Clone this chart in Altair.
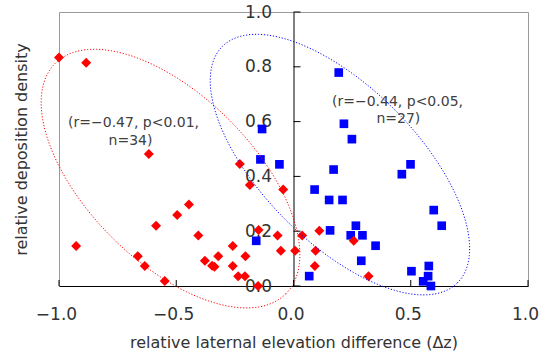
import altair as alt
import numpy as np
import pandas as pd

# ---- data ----
red_x = [-1.0, -0.884, -0.927, -0.617, -0.664, -0.634, -0.586, -0.549, -0.496, -0.446,
         -0.406, -0.378, -0.347, -0.337, -0.321, -0.259, -0.259, -0.236, -0.207, -0.205,
         -0.229, -0.186, -0.149, -0.151, -0.068, -0.054, -0.044, 0.007, 0.037, 0.094,
         0.091, 0.110, 0.257, 0.320]
red_y = [0.834, 0.815, 0.146, 0.482, 0.109, 0.073, 0.220, 0.018, 0.259, 0.297,
         0.184, 0.092, 0.074, 0.070, 0.109, 0.146, 0.073, 0.036, 0.036, 0.109,
         0.445, 0.369, 0.204, 0.000, 0.184, 0.129, 0.352, 0.129, 0.184, 0.129,
         0.073, 0.202, 0.165, 0.036]
blue_x = [-0.134, -0.141, -0.060, -0.159, 0.193, 0.215, 0.249, 0.171, 0.090, 0.152,
          0.209, 0.156, 0.266, 0.244, 0.294, 0.350, 0.289, 0.067, 0.462, 0.499,
          0.598, 0.632, 0.503, 0.577, 0.574, 0.553, 0.586]
blue_y = [0.573, 0.462, 0.444, 0.165, 0.779, 0.592, 0.536, 0.425, 0.352, 0.314,
          0.314, 0.203, 0.220, 0.185, 0.185, 0.147, 0.092, 0.036, 0.408, 0.444,
          0.277, 0.220, 0.054, 0.073, 0.036, 0.017, 0.000]

x_ticks = [-1.0, -0.5, 0.0, 0.5, 1.0]
y_ticks = [0.0, 0.2, 0.4, 0.6, 0.8, 1.0]

red_label = ["(r=\u22120.47, p<0.01,", "n=34)"]
blue_label = ["(r=\u22120.44, p<0.05,", "n=27)"]

x_title = "relative laternal elevation difference (\u0394z)"
y_title = "relative deposition density"

# ---- layout ----
W, H = 469, 274
PX_PER_X = W / 2.0
PX_PER_Y = H / 1.0
FONT = "DejaVu Sans"
TXT = "#333333"


def ellipse(cx, cy, a_px, b_px, ang_deg, n=361):
    t = np.linspace(0, 2 * np.pi, n)
    th = np.radians(ang_deg)
    px = a_px * np.cos(t) * np.cos(th) - b_px * np.sin(t) * np.sin(th)
    py = a_px * np.cos(t) * np.sin(th) + b_px * np.sin(t) * np.cos(th)
    return pd.DataFrame({"x": cx + px / PX_PER_X, "y": cy - py / PX_PER_Y, "i": np.arange(n)})


red_ell = ellipse(-0.5245, 0.392, 163, 83, 45)
blue_ell = ellipse(0.198, 0.443, 166.7, 77.5, 45.2)

xs = alt.Scale(domain=[-1, 1], nice=False, zero=False)
ys = alt.Scale(domain=[0, 1], nice=False, zero=False)

xaxis = alt.Axis(values=x_ticks, format=".1f", ticks=False, grid=False,
                 domainColor="#000000", domainWidth=1,
                 labelFont=FONT, labelFontSize=17, labelColor=TXT, labelPadding=20,
                 labelFlush=False, labelOverlap=False, labelOffset=-3,
                 title=x_title, titleFont=FONT, titleFontSize=16, titleFontWeight="normal",
                 titleColor=TXT, titleBaseline="alphabetic", titleY=61)
yaxis = alt.Axis(values=y_ticks, format=".1f", ticks=False, grid=False,
                 domainColor="#000000", domainWidth=1, offset=-W / 2.0,
                 labelFont=FONT, labelFontSize=17, labelColor=TXT, labelPadding=22,
                 labelFlush=False, labelOverlap=False,
                 title=y_title, titleFont=FONT, titleFontSize=16, titleFontWeight="normal",
                 titleColor=TXT, titleBaseline="middle", titleX=-272.5, titleY=H / 2.0)

blue_df = pd.DataFrame({"x": blue_x, "y": blue_y})
red_df = pd.DataFrame({"x": red_x, "y": red_y})

blue_pts = alt.Chart(blue_df).mark_point(shape="square", filled=True, opacity=1, size=75,
                                         color="#0000ff", strokeWidth=0).encode(
    x=alt.X("x:Q", scale=xs, axis=xaxis),
    y=alt.Y("y:Q", scale=ys, axis=yaxis),
)
red_pts = alt.Chart(red_df).mark_point(shape="diamond", filled=True, opacity=1, size=100,
                                       color="#ff0000", strokeWidth=0).encode(
    x="x:Q", y="y:Q")

xt = alt.Chart(pd.DataFrame({"x": x_ticks})).mark_rule(color="#000000", strokeWidth=1).encode(
    x="x:Q", y=alt.datum(0), y2=alt.datum(6 / PX_PER_Y))
yt = alt.Chart(pd.DataFrame({"y": y_ticks})).mark_rule(color="#000000", strokeWidth=1).encode(
    y="y:Q", x=alt.datum(0), x2=alt.datum(7 / PX_PER_X))

red_line = alt.Chart(red_ell).mark_line(color="#ff0000", strokeWidth=1, strokeDash=[1.2, 1.8],
                                        clip=False).encode(x="x:Q", y="y:Q", order="i:Q")
blue_line = alt.Chart(blue_ell).mark_line(color="#0000ff", strokeWidth=1, strokeDash=[1.2, 1.8],
                                          clip=False).encode(x="x:Q", y="y:Q", order="i:Q")

red_txt = alt.Chart(pd.DataFrame({"t": red_label, "x": [-0.682, -0.695], "y": [0.595, 0.529]})).mark_text(
    font=FONT, fontSize=14, color="#404040", baseline="middle", align="center").encode(
    x="x:Q", y="y:Q", text="t:N")
blue_txt = alt.Chart(pd.DataFrame({"t": blue_label, "x": [0.4435, 0.447], "y": [0.672, 0.609]})).mark_text(
    font=FONT, fontSize=14, color="#404040", baseline="middle", align="center").encode(
    x="x:Q", y="y:Q", text="t:N")

chart = alt.layer(blue_pts, red_pts, xt, yt, red_txt, blue_txt, red_line, blue_line).properties(
    width=W, height=H,
    autosize=alt.AutoSizeParams(type="none"),
    padding={"left": 59, "top": 12, "right": 14, "bottom": 68},
    background="white",
).configure_view(stroke="#999999", strokeWidth=1)

chart.save("out.html", embed_options={"renderer": "svg", "actions": False})
